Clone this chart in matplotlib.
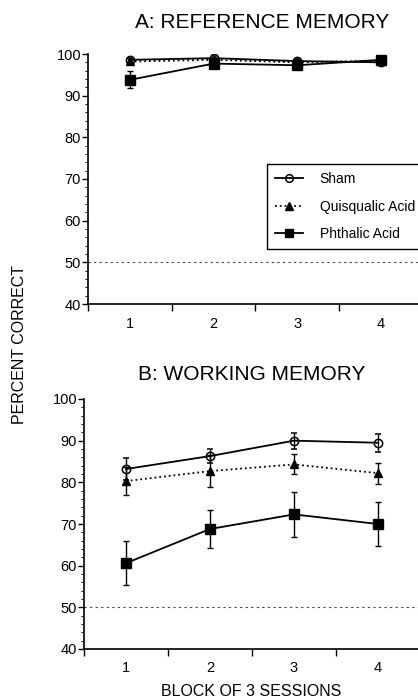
import matplotlib
matplotlib.use("Agg")
import matplotlib.pyplot as plt
from matplotlib.ticker import MultipleLocator, FixedLocator
from matplotlib.lines import Line2D

plt.rcParams['font.family'] = ['Liberation Sans', 'DejaVu Sans']

blocks = [1, 2, 3, 4]
block_labels = ["1", "2", "3", "4"]

# Panel A: reference memory
sham_A = [98.6, 99.0, 98.3, 98.0]
sham_A_err = [0.5, 0.4, 0.4, 0.5]
quis_A = [98.2, 98.6, 98.0, 98.4]
quis_A_err = [0.6, 0.5, 0.5, 0.5]
phth_A = [93.8, 97.7, 97.3, 98.6]
phth_A_err = [2.0, 0.7, 0.8, 0.5]

# Panel B: working memory
sham_B = [83.2, 86.3, 90.0, 89.5]
sham_B_err = [2.6, 1.7, 1.9, 2.2]
quis_B = [80.3, 82.7, 84.3, 82.2]
quis_B_err = [3.4, 3.8, 2.4, 2.5]
phth_B = [60.6, 68.8, 72.3, 70.0]
phth_B_err = [5.3, 4.5, 5.4, 5.2]

chance = 50
group_names = ["Sham", "Quisqualic Acid", "Phthalic Acid"]

W, H = 418, 700
fig = plt.figure(figsize=(W / 100, H / 100), dpi=100)


def px_axes(left, right, top, bottom):
    return fig.add_axes([left / W, 1 - bottom / H, (right - left) / W, (bottom - top) / H])


axA = px_axes(88, 418, 54, 304)
axB = px_axes(84, 418, 399, 649)

styles = [
    dict(fmt='-o', mfc='none', ms=6, mew=1.1),
    dict(fmt=':^', mfc='black', ms=6, mew=1.0),
    dict(fmt='-s', mfc='black', ms=6.5, mew=1.0),
]


def draw(ax, sham, se, quis, qe, phth, pe, xmax):
    for (vals, errs, st, z) in [(sham, se, styles[0], 4), (quis, qe, styles[1], 3),
                                (phth, pe, styles[2], 3)]:
        ax.errorbar(blocks, vals, yerr=errs, fmt=st['fmt'], color='black', mfc=st['mfc'],
                    mec='black', ms=st['ms'], mew=st['mew'], lw=1.3, capsize=2.5,
                    elinewidth=1.0, capthick=1.0, zorder=z)
    ax.axhline(chance, color='#444444', lw=0.8, ls=(0, (2, 3)), zorder=1)
    ax.set_xlim(0.5, xmax)
    ax.set_ylim(40, 100)
    ax.spines['top'].set_visible(False)
    ax.spines['right'].set_visible(False)
    ax.spines['left'].set_linewidth(1.2)
    ax.spines['bottom'].set_linewidth(1.2)
    ax.set_xticks(blocks)
    ax.set_xticklabels(block_labels, fontsize=10.5)
    ax.xaxis.set_minor_locator(FixedLocator([0.5, 1.5, 2.5, 3.5]))
    ax.tick_params(axis='x', which='major', length=0, pad=9)
    ax.tick_params(axis='x', which='minor', length=5, width=1.0, direction='out')
    ax.set_yticks([40, 50, 60, 70, 80, 90, 100])
    ax.yaxis.set_minor_locator(MultipleLocator(2))
    ax.tick_params(axis='y', which='major', length=4.5, width=1.0, pad=0.5, labelsize=10.5)
    ax.tick_params(axis='y', which='minor', length=2, width=0.7)


draw(axA, sham_A, sham_A_err, quis_A, quis_A_err, phth_A, phth_A_err, 0.5 + 330 / 83.7)
draw(axB, sham_B, sham_B_err, quis_B, quis_B_err, phth_B, phth_B_err, 0.5 + 334 / 84)

handles = [Line2D([], [], linestyle=st['fmt'][:-1], marker=st['fmt'][-1], color='black',
                  mfc=st['mfc'], mec='black', ms=st['ms'] - 0.5, mew=st['mew'], lw=1.3)
           for st in styles]
leg = axA.legend(handles, group_names, loc='upper left',
                 bbox_to_anchor=((267 - 88) / 330, (304 - 164) / 250),
                 frameon=True, fancybox=False, edgecolor='black', fontsize=10,
                 handlelength=2.0, handletextpad=1.2, labelspacing=0.95,
                 borderpad=0.6, borderaxespad=0, framealpha=1)
leg.get_frame().set_linewidth(1.0)

fig.text(262 / W, 1 - 23 / H, "A: REFERENCE MEMORY", ha='center', va='center', fontsize=15)
fig.text(252 / W, 1 - 374 / H, "B: WORKING MEMORY", ha='center', va='center', fontsize=15)
fig.text(20 / W, 1 - 345 / H, "PERCENT CORRECT", ha='center', va='center', rotation=90,
         fontsize=11.5)
fig.text(251 / W, 1 - 692 / H, "BLOCK OF 3 SESSIONS", ha='center', va='center', fontsize=11.5)

fig.savefig("out.png", dpi=100)
